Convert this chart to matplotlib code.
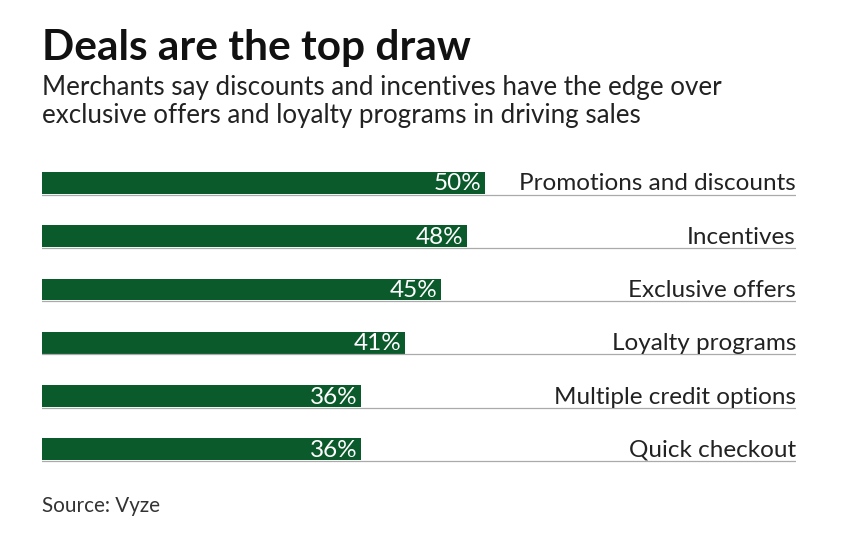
import matplotlib.pyplot as plt

categories = ["Promotions and discounts", "Incentives", "Exclusive offers",
              "Loyalty programs", "Multiple credit options", "Quick checkout"]
values = [50, 48, 45, 41, 36, 36]

green = "#0b5a2b"
plt.rcParams["font.family"] = "Lato"

fig = plt.figure(figsize=(8.44, 5.5), dpi=100)
ax = fig.add_axes([42 / 844, 80 / 550, 754 / 844, 310 / 550])

pos = list(range(len(values)))
ax.barh(pos, values, height=0.41, color=green)
for i, (v, c) in enumerate(zip(values, categories)):
    ax.plot([0, 85.1], [i + 0.22, i + 0.22], color="#aaaaaa", lw=0.9)
    ax.text(v - 0.4, i + 0.02, f"{v}%", color="white", ha="right", va="center", fontsize=17.5)
    ax.text(85.1, i + 0.02, c, color="#222222", ha="right", va="center", fontsize=17.5)

ax.set_xlim(0, 85.1)
ax.set_ylim(5.39, -0.43)
ax.axis("off")

fig.text(42 / 844, 1 - 48 / 550, "Deals are the top draw", fontsize=30.5, fontweight="bold",
         va="center", color="#111111")
fig.text(42 / 844, 1 - 87 / 550, "Merchants say discounts and incentives have the edge over",
         fontsize=18.7, va="center", color="#222222")
fig.text(42 / 844, 1 - 115 / 550, "exclusive offers and loyalty programs in driving sales",
         fontsize=18.7, va="center", color="#222222")
fig.text(42 / 844, 1 - 506 / 550, "Source: Vyze", fontsize=14.9, va="center", color="#333333")

fig.savefig("out.png", dpi=100)
